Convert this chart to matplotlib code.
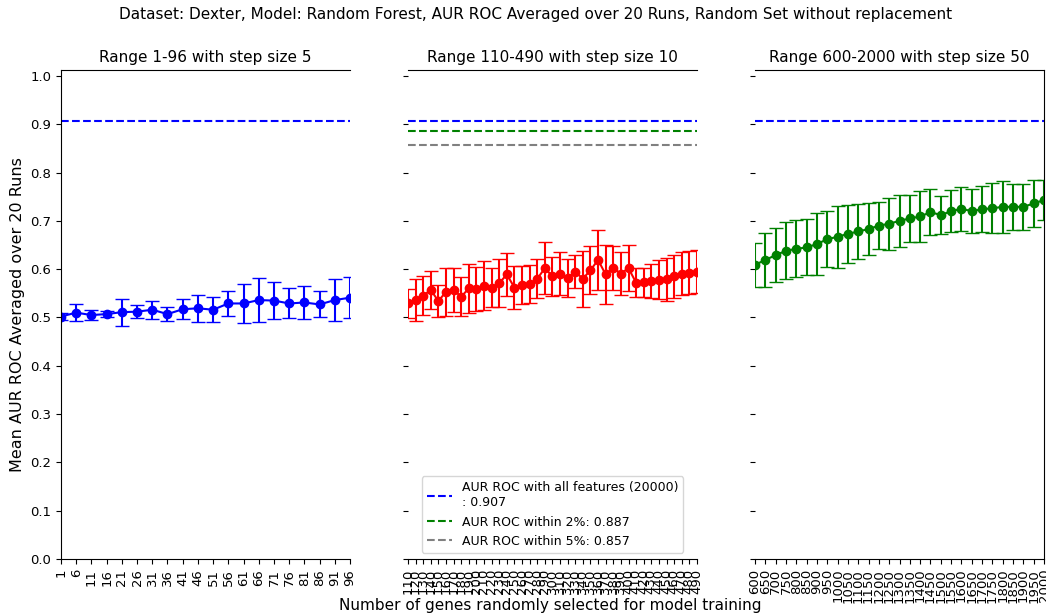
import numpy as np
from matplotlib import pyplot as plt

# panel 1: range 1-96, step 5
x1 = list(range(1, 97, 5))
y1 = [0.502, 0.510, 0.505, 0.507, 0.511, 0.512, 0.516, 0.507, 0.517, 0.519,
      0.516, 0.529, 0.529, 0.536, 0.535, 0.529, 0.531, 0.527, 0.536, 0.541]
e1 = [0.007, 0.017, 0.011, 0.007, 0.028, 0.014, 0.019, 0.015, 0.021, 0.028,
      0.026, 0.026, 0.040, 0.045, 0.038, 0.031, 0.035, 0.027, 0.044, 0.042]

# panel 2: range 110-490, step 10
x2 = list(range(110, 491, 10))
y2 = [0.529, 0.536, 0.545, 0.557, 0.534, 0.553, 0.557, 0.543, 0.560, 0.559,
      0.566, 0.562, 0.571, 0.589, 0.562, 0.567, 0.569, 0.580, 0.602, 0.585,
      0.591, 0.582, 0.595, 0.580, 0.598, 0.619, 0.589, 0.602, 0.591, 0.602,
      0.572, 0.573, 0.576, 0.578, 0.579, 0.585, 0.591, 0.593, 0.595]
e2 = [0.030, 0.044, 0.040, 0.040, 0.034, 0.050, 0.045, 0.040, 0.050, 0.045,
      0.050, 0.040, 0.050, 0.045, 0.045, 0.040, 0.040, 0.040, 0.054, 0.040,
      0.045, 0.040, 0.035, 0.058, 0.050, 0.063, 0.062, 0.045, 0.045, 0.048,
      0.030, 0.030, 0.035, 0.040, 0.045, 0.045, 0.045, 0.045, 0.045]

# panel 3: range 600-2000, step 50
x3 = list(range(600, 2001, 50))
y3 = [0.609, 0.619, 0.629, 0.638, 0.642, 0.645, 0.652, 0.662, 0.667, 0.673,
      0.678, 0.683, 0.690, 0.694, 0.700, 0.705, 0.709, 0.718, 0.712, 0.720,
      0.725, 0.720, 0.724, 0.726, 0.729, 0.729, 0.729, 0.736, 0.743]
e3 = [0.045, 0.056, 0.056, 0.059, 0.059, 0.058, 0.064, 0.058, 0.064, 0.060,
      0.056, 0.054, 0.049, 0.054, 0.054, 0.049, 0.052, 0.048, 0.040, 0.044,
      0.045, 0.046, 0.048, 0.052, 0.054, 0.048, 0.047, 0.048, 0.042]

auc_all = 0.907
auc_2 = 0.887
auc_5 = 0.857

fig = plt.figure(figsize=(10.46, 6.15), dpi=100)
ax1 = fig.add_axes([0.0583, 0.091, 0.2763, 0.795])
ax2 = fig.add_axes([0.390, 0.091, 0.2763, 0.795])
ax3 = fig.add_axes([0.7218, 0.091, 0.2763, 0.795])

panels = [
    (ax1, x1, y1, e1, 'blue', 'Range 1-96 with step size 5'),
    (ax2, x2, y2, e2, 'red', 'Range 110-490 with step size 10'),
    (ax3, x3, y3, e3, 'green', 'Range 600-2000 with step size 50'),
]

for ax, x, y, e, c, title in panels:
    ax.errorbar(x, y, yerr=e, fmt='-o', color=c, capsize=5, markersize=6)
    ax.axhline(auc_all, color='blue', linestyle='--',
               label='AUR ROC with all features (20000)\n: %.3f' % auc_all)
    ax.set_xticks(x)
    ax.set_xticklabels([str(v) for v in x], rotation=90)
    ax.tick_params(labelsize=9.5)
    ax.set_xlim(x[0], x[-1])
    ax.set_ylim(0, 1.012)
    ax.set_yticks(np.arange(0, 1.01, 0.1))
    ax.set_title(title, fontsize=11)

ax2.axhline(auc_2, color='green', linestyle='--', label='AUR ROC within 2%%: %.3f' % auc_2)
ax2.axhline(auc_5, color='gray', linestyle='--', label='AUR ROC within 5%%: %.3f' % auc_5)
ax2.legend(loc='lower center', fontsize=9)

ax1.spines['right'].set_visible(False)
ax2.spines['left'].set_visible(False)
ax2.spines['right'].set_visible(False)
ax3.spines['left'].set_visible(False)
ax2.tick_params(axis='y', labelleft=False)
ax3.tick_params(axis='y', labelleft=False)

ax1.set_ylabel('Mean AUR ROC Averaged over 20 Runs', fontsize=11.5)
fig.text(0.526, 0.003, 'Number of genes randomly selected for model training',
         ha='center', va='bottom', fontsize=11)
fig.text(0.512, 0.969, 'Dataset: Dexter, Model: Random Forest, AUR ROC Averaged over 20 Runs, Random Set without replacement',
         ha='center', va='baseline', fontsize=11)

plt.savefig('out.png', dpi=100)
